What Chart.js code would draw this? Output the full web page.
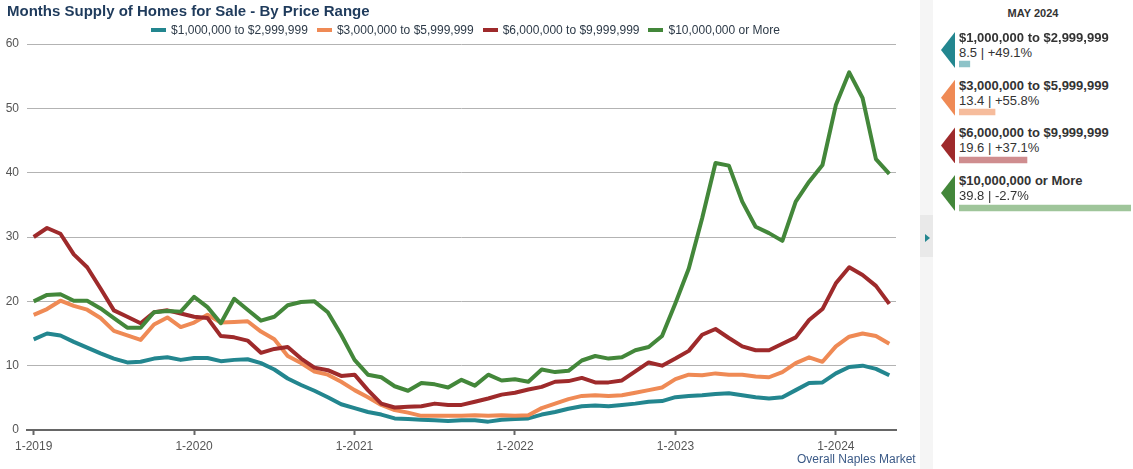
<!DOCTYPE html>
<html><head><meta charset="utf-8">
<script src="https://cdn.jsdelivr.net/npm/chart.js@4.4.1/dist/chart.umd.min.js"></script>
<style>
body{margin:0;width:1133px;height:469px;overflow:hidden;background:#fff;font-family:"Liberation Sans",Arial,sans-serif;position:relative}
#title{position:absolute;left:7px;top:2px;font-weight:bold;font-size:15px;color:#1f3b5c;white-space:nowrap}
#legend{position:absolute;top:23px;left:0;width:931px;display:flex;justify-content:center;font-size:12px;color:#2d3a48;white-space:nowrap}
#legend .it{display:flex;align-items:center;margin:0 4.5px}
#legend .mk{width:15px;height:4px;margin-right:5px}
#chartWrap{position:absolute;left:0;top:0;width:918px;height:469px}
#src{position:absolute;left:797px;top:452px;font-size:12px;color:#3b5a87}
#strip{position:absolute;left:920px;top:0;width:13px;height:469px;background:#f5f5f5}
#stripBox{position:absolute;left:920px;top:215px;width:13px;height:42px;background:#e9e9e9}
#stripTri{position:absolute;left:925px;top:234px;width:0;height:0;border-top:4px solid transparent;border-bottom:4px solid transparent;border-left:5px solid #23868f}
#panelHead{position:absolute;left:933px;width:200px;top:7px;text-align:center;font-weight:bold;font-size:11px;color:#333}
.arrow{position:absolute;left:941px;width:14px;height:36px;clip-path:polygon(0 50%,100% 0,100% 100%)}
.plab{position:absolute;left:959px;font-weight:bold;font-size:13px;color:#333;white-space:nowrap}
.pval{position:absolute;left:959px;font-size:13px;color:#333;white-space:nowrap}
#barWrap{position:absolute;left:959px;top:40px;width:172px;height:192px}
</style></head>
<body>
<div id="chartWrap"><canvas id="c"></canvas></div>
<div id="title">Months Supply of Homes for Sale - By Price Range</div>
<div id="legend"></div>
<div id="src">Overall Naples Market</div>
<div id="strip"></div><div id="stripBox"></div><div id="stripTri"></div>
<div id="panelHead">MAY 2024</div>
<div id="panel"></div>
<div id="barWrap"><canvas id="b"></canvas></div>
<script>
const seriesNames = ["$1,000,000 to $2,999,999","$3,000,000 to $5,999,999","$6,000,000 to $9,999,999","$10,000,000 or More"];
const seriesColors = ["#23868f","#ef8a55","#9e2a2b","#43873a"];
const barColors = ["#8ec3c8","#f6bc9c","#cf8d8f","#9fc59a"];
const years = [2019,2020,2021,2022,2023,2024];
const lastMonthIndex = 64;
const labels = [];
for (let i = 0; i <= lastMonthIndex; i++) labels.push(((i % 12) + 1) + "-" + years[Math.floor(i / 12)]);

const range1to3 = [14.1,15.0,14.7,13.7,12.8,11.9,11.1,10.5,10.6,11.1,
 11.3,10.9,11.2,11.2,10.7,10.9,11.0,10.4,9.4,8.0,
 7.0,6.1,5.1,4.0,3.4,2.8,2.4,1.8,1.7,1.6,
 1.5,1.4,1.5,1.5,1.3,1.6,1.7,1.8,2.4,2.8,
 3.3,3.7,3.8,3.7,3.9,4.1,4.4,4.5,5.1,5.3,
 5.4,5.6,5.7,5.4,5.1,4.9,5.1,6.2,7.3,7.4,
 8.8,9.8,10.0,9.5,8.5];
const range3to6 = [17.9,18.8,20.1,19.3,18.7,17.4,15.4,14.7,14.0,16.4,
 17.5,16.0,16.7,17.9,16.7,16.8,16.9,15.3,14.1,11.5,
 10.4,9.1,8.6,7.5,6.2,5.1,3.9,3.1,2.7,2.2,
 2.2,2.2,2.2,2.3,2.2,2.3,2.2,2.3,3.4,4.1,
 4.8,5.3,5.4,5.3,5.4,5.8,6.2,6.6,7.9,8.6,
 8.5,8.8,8.6,8.6,8.3,8.2,9.0,10.4,11.3,10.6,
 13.0,14.5,15.0,14.6,13.4];
const range6to10 = [30.0,31.4,30.5,27.3,25.3,22.0,18.6,17.6,16.6,18.3,
 18.6,18.1,17.6,17.4,14.6,14.4,13.9,12.0,12.6,12.9,
 11.1,9.7,9.3,8.4,8.6,6.2,4.1,3.5,3.6,3.7,
 4.1,3.9,3.9,4.4,4.9,5.5,5.8,6.3,6.7,7.5,
 7.6,8.1,7.4,7.4,7.7,9.1,10.5,10.0,11.1,12.3,
 14.8,15.7,14.3,13.0,12.4,12.4,13.4,14.4,17.1,18.8,
 22.8,25.3,24.1,22.4,19.6];
const range10plus = [20.0,21.0,21.1,20.1,20.1,18.9,17.4,15.9,15.9,18.3,
 18.5,18.4,20.7,19.1,16.6,20.4,18.7,17.0,17.6,19.4,
 19.9,20.0,18.3,14.8,10.9,8.6,8.2,6.8,6.1,7.3,
 7.1,6.6,7.8,6.9,8.6,7.7,7.9,7.5,9.4,9.0,
 9.2,10.8,11.5,11.1,11.3,12.4,12.9,14.6,19.7,25.1,
 32.9,41.5,41.1,35.5,31.6,30.6,29.4,35.5,38.6,41.2,
 50.5,55.6,51.6,42.1,39.8];
const latestValues = [8.5,13.4,19.6,39.8];
const yearChange = ["+49.1%","+55.8%","+37.1%","-2.7%"];
const yTicks = [0,10,20,30,40,50,60];

const allSeries = [range1to3, range3to6, range6to10, range10plus];

const lg = document.getElementById('legend');
seriesNames.forEach((n,i)=>{
  const d=document.createElement('div');d.className='it';
  d.innerHTML='<span class="mk" style="background:'+seriesColors[i]+'"></span><span>'+n+'</span>';
  lg.appendChild(d);
});

const panel = document.getElementById('panel');
seriesNames.forEach((n,i)=>{
  const top0 = 32 + i*47.7;
  const a=document.createElement('div');a.className='arrow';a.style.top=top0+'px';a.style.background=seriesColors[i];panel.appendChild(a);
  const l=document.createElement('div');l.className='plab';l.style.top=(top0-2)+'px';l.textContent=n;panel.appendChild(l);
  const v=document.createElement('div');v.className='pval';v.style.top=(top0+13)+'px';v.textContent=latestValues[i]+' | '+yearChange[i];panel.appendChild(v);
});

new Chart(document.getElementById('c'), {
  type: 'line',
  data: {
    labels: labels,
    datasets: allSeries.map((s,i)=>({
      label: seriesNames[i], data: s, borderColor: seriesColors[i], backgroundColor: seriesColors[i],
      borderWidth: 4, pointRadius: 0, tension: 0, fill: false, borderJoinStyle: 'round', borderCapStyle: 'butt'
    })).reverse()
  },
  options: {
    responsive: true, maintainAspectRatio: false, animation: false,
    layout: { padding: { left: 5, right: 22, top: 44, bottom: 13 } },
    plugins: { legend: { display: false }, tooltip: { enabled: false }, title: { display: false } },
    scales: {
      x: {
        type: 'category', offset: true,
        afterFit: (s) => { s.paddingLeft = 0; s.paddingRight = 0; s.height = 26; },
        grid: { display: true, drawOnChartArea: false, drawTicks: true, tickLength: 5, color: '#666', tickWidth: 2 },
        border: { display: true, color: '#666', width: 2 },
        ticks: {
          autoSkip: false, maxRotation: 0, minRotation: 0, padding: 4,
          color: '#555', font: { family: 'Liberation Sans', size: 12 },
          callback: function(v, i) { return (i % 12 === 0) ? labels[i] : null; }
        }
      },
      y: {
        min: 0, max: 60,
        afterFit: (s) => { s.width = 22; },
        afterBuildTicks: (ax) => { ax.ticks = yTicks.map(v => ({ value: v })); },
        grid: { color: '#b3b3b3', lineWidth: 1, drawTicks: false },
        border: { display: false },
        ticks: { padding: 8, color: '#555', font: { family: 'Liberation Sans', size: 12 } }
      }
    }
  }
});

new Chart(document.getElementById('b'), {
  type: 'bar',
  data: { labels: seriesNames, datasets: [{ data: latestValues, backgroundColor: barColors, barThickness: 6, borderWidth: 0 }] },
  options: {
    indexAxis: 'y', responsive: true, maintainAspectRatio: false, animation: false,
    layout: { padding: 0 },
    plugins: { legend: { display: false }, tooltip: { enabled: false } },
    scales: { x: { display: false, min: 6.4, max: 39.8 }, y: { display: false } }
  }
});
</script>
</body></html>
